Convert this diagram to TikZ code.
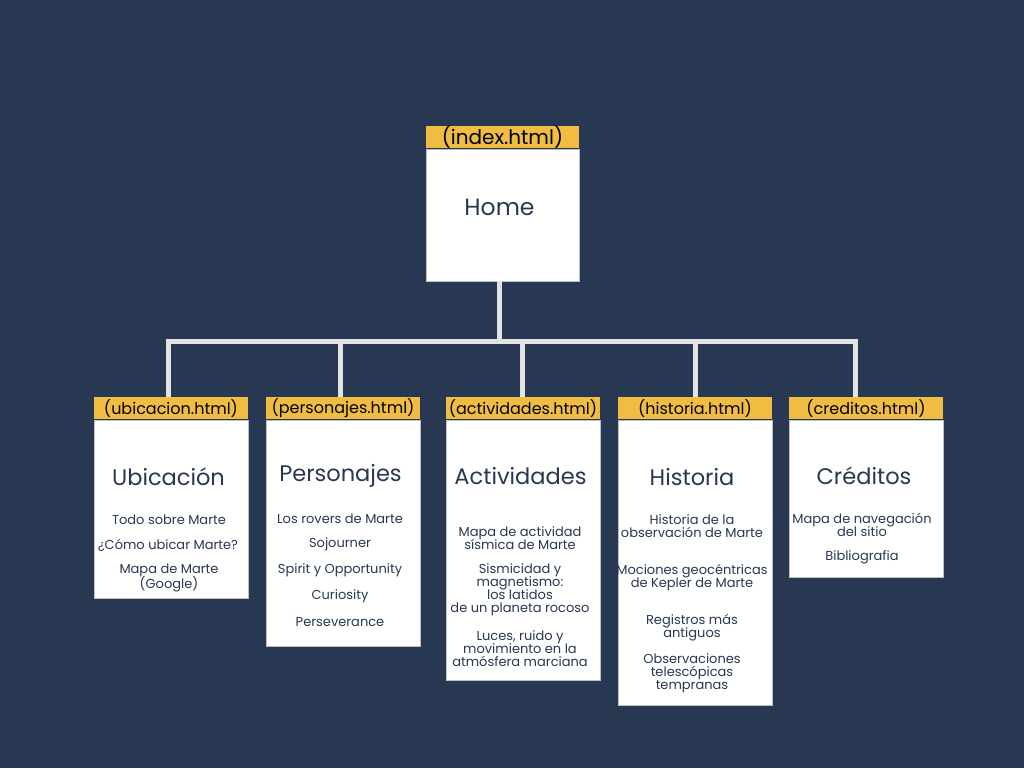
\documentclass[tikz,border=0pt]{standalone}
\usepackage{fontspec}
\setmainfont{Poppins}
\usetikzlibrary{positioning}

\definecolor{navy}{HTML}{283852}
\definecolor{gold}{HTML}{F0BD42}
\definecolor{wireclr}{HTML}{E3E3E3}

\newcommand{\itemfont}{\fontsize{13}{13}\selectfont\lineskiplimit=-6pt\relax}

\tikzset{
	page/.style = {fill=white, draw=black!25, line width=0.8pt, minimum width=154pt, inner sep=0pt},
	tab/.style = {fill=gold, minimum width=154pt, minimum height=22pt, inner sep=0pt, text=black, font=\fontsize{16}{17}\selectfont},
	title/.style = {text=navy, font=\fontsize{22.5}{25}\selectfont},
	item/.style = {text=navy, align=center, inner sep=0pt, yshift=-1.5pt, font=\itemfont},
	wire/.style = {draw=wireclr, line width=5pt},
}

\begin{document}
\begin{tikzpicture}[x = 1pt, y = -1pt]
	% background
	\fill[navy] (0,0) rectangle (1024,768);
	\useasboundingbox (0,0) rectangle (1024,768);
	
	% home page
	\node[page, minimum width=153pt, minimum height=132pt] (home) at (502.5,215) {};
	\node[tab, minimum width=153pt, font=\fontsize{20}{21}\selectfont, above=0pt of home] (home-tab) {(index.html)};
	\node[title, font=\fontsize{23.5}{25}\selectfont] (home-title) at (499.5,207) {Home};
	
	% bus line
	\coordinate (bus) at (499,341);
	\draw[wire] (home.south -| bus) -- (bus);
	
	% section pages
	\foreach \n/\x/\bot/\dx/\file in {ubic/171/598/-3pt/ubicacion, pers/343/646/-3pt/personajes, acti/523/680/-1pt/actividades, hist/695/705/0pt/historia, cred/866/577/-11pt/creditos} {
		\node[page, minimum height={(\bot-420)*1pt}] (\n) at (\x, {(420+\bot)/2}) {};
		\node[tab, above=0pt of \n] (\n-tab) {(\file.html)};
		\draw[wire] ([xshift=\dx]\n-tab.north) |- (bus);
	}
	
	% ubicacion
	\node[title] (ubic-title) at (168.5,477) {Ubicación};
	\node[item] (ubic-1) at (169,518) {Todo sobre Marte};
	\node[item] (ubic-2) at (168,544) {¿Cómo ubicar Marte?};
	\node[item] (ubic-3) at (169,576.5) {Mapa de Marte\\[1.5pt](Google)};
	
	% personajes
	\node[title] (pers-title) at (340.5,476) {Personajes};
	\node[item] (pers-1) at (340,517) {Los rovers de Marte};
	\node[item] (pers-2) at (340,543) {Sojourner};
	\node[item] (pers-3) at (340,569) {Spirit y Opportunity};
	\node[item] (pers-4) at (340,595) {Curiosity};
	\node[item] (pers-5) at (340,621) {Perseverance};
	
	% actividades
	\node[title] (acti-title) at (520.5,476) {Actividades};
	\node[item] (acti-1) at (520,536.5) {Mapa de actividad\\sísmica de Marte};
	\node[item] (acti-2) at (520,588.5) {Sismicidad y\\magnetismo:\\los latidos\\de un planeta rocoso};
	\node[item] (acti-3) at (520,647) {Luces, ruido y\\movimiento en la\\atmósfera marciana};
	
	% historia
	\node[title] (hist-title) at (692,477) {Historia};
	\node[item] (hist-1) at (692,524.5) {Historia de la\\observación de Marte};
	\node[item] (hist-2) at (692,576.5) {Mociones geocéntricas\\de Kepler de Marte};
	\node[item] (hist-3) at (692,626.5) {Registros más\\antiguos};
	\node[item] (hist-4) at (692,672) {Observaciones\\telescópicas\\tempranas};
	
	% creditos
	\node[title] (cred-title) at (864,476) {Créditos};
	\node[item] (cred-1) at (862,523.5) {Mapa de navegación\\del sitio};
	\node[item] (cred-2) at (862,556) {Bibliografia};
\end{tikzpicture}
\end{document}
